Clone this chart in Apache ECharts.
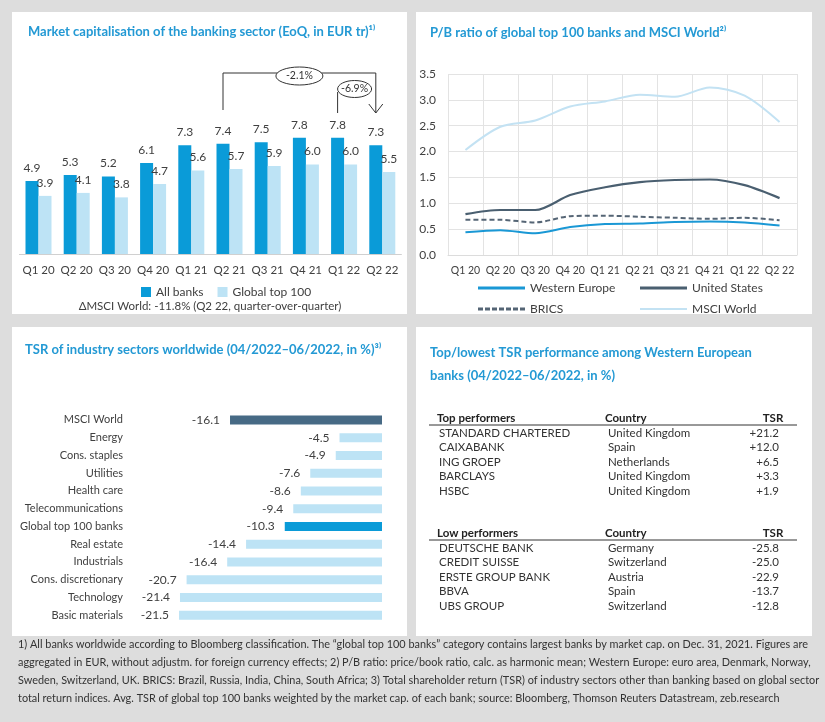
<!DOCTYPE html>
<html><head><meta charset="utf-8">
<script src="https://cdn.jsdelivr.net/npm/echarts@6/dist/echarts.min.js"></script>
<style>html,body{margin:0;padding:0;background:#dddddd;}#c{width:825px;height:722px;}</style>
</head><body><div id="c"></div>
<script>
// ---------- data ----------
const quarters = ['Q1 20','Q2 20','Q3 20','Q4 20','Q1 21','Q2 21','Q3 21','Q4 21','Q1 22','Q2 22'];
const allBanks = [4.9,5.3,5.2,6.1,7.3,7.4,7.5,7.8,7.8,7.3];
const globalTop100 = [3.9,4.1,3.8,4.7,5.6,5.7,5.9,6.0,6.0,5.5];

const westernEurope = [0.44,0.48,0.42,0.54,0.60,0.61,0.64,0.65,0.63,0.57];
const unitedStates = [0.79,0.87,0.87,1.16,1.31,1.41,1.45,1.46,1.35,1.10];
const brics = [0.68,0.68,0.63,0.75,0.76,0.74,0.72,0.70,0.72,0.67];
const msciWorld = [2.03,2.48,2.60,2.87,2.97,3.10,3.06,3.24,3.08,2.57];

const sectors = ['MSCI World','Energy','Cons. staples','Utilities','Health care','Telecommunications','Global top 100 banks','Real estate','Industrials','Cons. discretionary','Technology','Basic materials'];
const sectorTSR = [-16.1,-4.5,-4.9,-7.6,-8.6,-9.4,-10.3,-14.4,-16.4,-20.7,-21.4,-21.5];

const topNames = ['STANDARD CHARTERED','CAIXABANK','ING GROEP','BARCLAYS','HSBC'];
const topCountries = ['United Kingdom','Spain','Netherlands','United Kingdom','United Kingdom'];
const topTSR = ['+21.2','+12.0','+6.5','+3.3','+1.9'];
const lowNames = ['DEUTSCHE BANK','CREDIT SUISSE','ERSTE GROUP BANK','BBVA','UBS GROUP'];
const lowCountries = ['Germany','Switzerland','Austria','Spain','Switzerland'];
const lowTSR = ['-25.8','-25.0','-22.9','-13.7','-12.8'];

const footnotes = [
 '1) All banks worldwide according to Bloomberg classification. The \u201cglobal top 100 banks\u201d category contains largest banks by market cap. on Dec. 31, 2021. Figures are',
 'aggregated in EUR, without adjustm. for foreign currency effects; 2) P/B ratio: price/book ratio, calc. as harmonic mean; Western Europe: euro area, Denmark, Norway,',
 'Sweden, Switzerland, UK. BRICS: Brazil, Russia, India, China, South Africa; 3) Total shareholder return (TSR) of industry sectors other than banking based on global sector',
 'total return indices. Avg. TSR of global top 100 banks weighted by the market cap. of each bank; source: Bloomberg, Thomson Reuters Datastream, zeb.research'
];

// ---------- style ----------
const FONT = 'Lato, "Open Sans", sans-serif';
const TXT = '#404040';
const TITLE = '#2399d4';
const DARK = '#0a9bd8';
const LIGHT = '#bde3f5';

const chart = echarts.init(document.getElementById('c'), null, {renderer:'canvas'});

function txt(x, y, s, opts) {
  return {type:'text', x:x, y:y, style:Object.assign({text:s, fill:'#333', font:'11.5px '+FONT, textVerticalAlign:'middle'}, opts||{})};
}

const base = [];
[[12,12,395,302],[416,12,396,302],[12,327,395,309],[416,327,396,309]].forEach(r=>{
  base.push({type:'rect', shape:{x:r[0],y:r[1],width:r[2],height:r[3]}, style:{fill:'#ffffff'}, z:-10});
});
base.push({type:'text', x:28, y:32, style:{text:'Market capitalisation of the banking sector (EoQ, in EUR tr)\u00b9\u207e', fill:TITLE, font:'bold 13px '+FONT, textVerticalAlign:'middle'}});
base.push({type:'text', x:430, y:33, style:{text:'P/B ratio of global top 100 banks and MSCI World\u00b2\u207e', fill:TITLE, font:'bold 13px '+FONT, textVerticalAlign:'middle'}});
base.push({type:'text', x:25, y:350, style:{text:'TSR of industry sectors worldwide (04/2022\u201306/2022, in %)\u00b3\u207e', fill:TITLE, font:'bold 13px '+FONT, textVerticalAlign:'middle'}});
base.push({type:'text', x:430, y:353, style:{text:'Top/lowest TSR performance among Western European', fill:TITLE, font:'bold 13px '+FONT, textVerticalAlign:'middle'}});
base.push({type:'text', x:430, y:376, style:{text:'banks (04/2022\u201306/2022, in %)', fill:TITLE, font:'bold 13px '+FONT, textVerticalAlign:'middle'}});
base.push({type:'text', x:210, y:306, style:{text:'\u0394MSCI World: -11.8% (Q2 22, quarter-over-quarter)', fill:TXT, font:'11.5px '+FONT, textAlign:'center', textVerticalAlign:'middle'}});

function table(y0, head, names, countries, tsr) {
  base.push(txt(437, y0, head, {font:'bold 11.5px '+FONT, fill:'#222'}));
  base.push(txt(605, y0, 'Country', {font:'bold 11.5px '+FONT, fill:'#222'}));
  base.push(txt(773, y0, 'TSR', {font:'bold 11.5px '+FONT, fill:'#222', textAlign:'center'}));
  base.push({type:'line', shape:{x1:429,y1:y0+7,x2:797,y2:y0+7}, style:{stroke:'#333', lineWidth:1}});
  names.forEach((n,i)=>{
    const y = y0 + 15 + i*14.5;
    base.push(txt(439, y, n));
    base.push(txt(608, y, countries[i]));
    base.push(txt(779, y, tsr[i], {textAlign:'right'}));
  });
}
table(418, 'Top performers', topNames, topCountries, topTSR);
table(533, 'Low performers', lowNames, lowCountries, lowTSR);

// footnotes: compress horizontally to the width of the reference lines
const FNFONT = '11.5px ' + FONT;
const mctx = document.createElement('canvas').getContext('2d');
mctx.font = FNFONT;
const fnScale = 790 / mctx.measureText(footnotes[0]).width;
footnotes.forEach((f,i)=>{
  base.push({type:'text', x:18, y:644+i*18, scaleX:fnScale, originX:0, originY:0,
    style:{text:f, fill:'#333', font:FNFONT, textVerticalAlign:'middle'}});
});

const lineIcon = 'path://M0,0h47v3h-47z';
const dashIcon = 'path://M0,0h5v3h-5zM7,0h5v3h-5zM14,0h5v3h-5zM21,0h5v3h-5zM28,0h5v3h-5zM35,0h5v3h-5zM42,0h5v3h-5z';

const option = {
  animation:false,
  textStyle:{fontFamily:FONT},
  grid:[
    {left:19.4, width:382, top:105, height:149},
    {left:448, width:349, top:74, height:181},
    {left:146, width:236, top:411, height:213}
  ],
  legend:[
    {data:['All banks','Global top 100'], left:136, top:281, icon:'rect', itemWidth:10, itemHeight:10, itemGap:14,
     textStyle:{fontSize:12, color:TXT, fontFamily:FONT}},
    {data:[{name:'Western Europe', icon:lineIcon},{name:'BRICS', icon:dashIcon}], orient:'vertical', left:473, top:276,
     itemWidth:47, itemHeight:3, itemGap:7, textStyle:{fontSize:12, color:TXT, fontFamily:FONT, lineHeight:14}},
    {data:[{name:'United States', icon:lineIcon},{name:'MSCI World', icon:'path://M0,0h47v2h-47z'}], orient:'vertical', left:635, top:276,
     itemWidth:47, itemHeight:3, itemGap:7, textStyle:{fontSize:12, color:TXT, fontFamily:FONT, lineHeight:14}}
  ],
  xAxis:[
    {gridIndex:0, type:'category', data:quarters, axisTick:{show:false},
     axisLine:{lineStyle:{color:'#d0d0d0'}}, axisLabel:{color:TXT, fontSize:11.5, margin:10, interval:0}},
    {gridIndex:1, type:'category', data:quarters, axisTick:{show:false},
     axisLine:{lineStyle:{color:'#dcdcdc'}}, splitLine:{show:true, interval:0, lineStyle:{color:'#e3e3e3'}},
     axisLabel:{color:TXT, fontSize:10.5, margin:10, interval:0}},
    {gridIndex:2, type:'value', min:-25, max:0, show:false}
  ],
  yAxis:[
    {gridIndex:0, type:'value', min:0, max:10, show:false},
    {gridIndex:1, type:'value', min:0, max:3.5, interval:0.5, axisLine:{show:false}, axisTick:{show:false},
     splitLine:{lineStyle:{color:'#e3e3e3'}},
     axisLabel:{color:TXT, fontSize:12, margin:12, formatter:v=>v.toFixed(1)}},
    {gridIndex:2, type:'category', data:sectors, inverse:true, axisLine:{show:false}, axisTick:{show:false},
     axisLabel:{color:TXT, fontSize:11, margin:23, interval:0}}
  ],
  series:[
    {name:'All banks', type:'bar', xAxisIndex:0, yAxisIndex:0, data:allBanks, barWidth:13, barGap:'0%',
     itemStyle:{color:DARK}, label:{show:true, position:'top', distance:7, color:TXT, fontSize:12, formatter:p=>p.value.toFixed(1)}},
    {name:'Global top 100', type:'bar', xAxisIndex:0, yAxisIndex:0, data:globalTop100, barWidth:13, barGap:'0%',
     itemStyle:{color:LIGHT}, label:{show:true, position:'top', distance:7, color:TXT, fontSize:12, formatter:p=>p.value.toFixed(1)}},

    {name:'Western Europe', type:'line', xAxisIndex:1, yAxisIndex:1, data:westernEurope, symbol:'none', smooth:0.3,
     lineStyle:{color:'#1a98d5', width:2}, itemStyle:{color:'#1a98d5'}},
    {name:'United States', type:'line', xAxisIndex:1, yAxisIndex:1, data:unitedStates, symbol:'none', smooth:0.3,
     lineStyle:{color:'#4a5f70', width:2.2}, itemStyle:{color:'#4a5f70'}},
    {name:'BRICS', type:'line', xAxisIndex:1, yAxisIndex:1, data:brics, symbol:'none', smooth:0.3,
     lineStyle:{color:'#556575', width:2, type:[5,3]}, itemStyle:{color:'#556575'}},
    {name:'MSCI World', type:'line', xAxisIndex:1, yAxisIndex:1, data:msciWorld, symbol:'none', smooth:0.3,
     lineStyle:{color:'#c3e2f3', width:2}, itemStyle:{color:'#c3e2f3'}},

    {name:'TSR', type:'bar', xAxisIndex:2, yAxisIndex:2, barWidth:9,
     data:sectorTSR.map((v,i)=>({value:v, itemStyle:{color: sectors[i]==='MSCI World' ? '#476a85' : (sectors[i]==='Global top 100 banks' ? DARK : LIGHT)}})),
     label:{show:true, position:'left', distance:10, color:TXT, fontSize:12, formatter:p=>p.value.toFixed(1)}}
  ],
  graphic: base
};
chart.setOption(option);

// annotation brackets above the bar chart, anchored to the category positions
const cx = q => chart.convertToPixel({xAxisIndex:0}, q) - 6.5;
const xL = cx('Q2 21'), xR = cx('Q2 22'), xM = cx('Q1 22');
const yTop = 73;
const ann = [];
ann.push({type:'polyline', shape:{points:[[xL,110],[xL,yTop],[xR,yTop],[xR,113]]}, style:{stroke:'#333', lineWidth:1, fill:null}, z:5});
ann.push({type:'polyline', shape:{points:[[xR-7,104],[xR,113],[xR+7,104]]}, style:{stroke:'#333', lineWidth:1, fill:null}, z:5});
ann.push({type:'line', shape:{x1:xM, y1:92, x2:xM, y2:113}, style:{stroke:'#333', lineWidth:1}, z:5});
ann.push({type:'ellipse', shape:{cx:(xL+xR)/2, cy:76, rx:23.5, ry:9}, style:{fill:'#fff', stroke:'#333', lineWidth:1}, z:6});
ann.push({type:'text', x:(xL+xR)/2, y:76, style:{text:'-2.1%', fill:'#333', font:'10.5px '+FONT, textAlign:'center', textVerticalAlign:'middle'}, z:7});
ann.push({type:'ellipse', shape:{cx:xM+17, cy:89, rx:17, ry:8.5}, style:{fill:'#fff', stroke:'#333', lineWidth:1}, z:6});
ann.push({type:'text', x:xM+17, y:89, style:{text:'-6.9%', fill:'#333', font:'10.5px '+FONT, textAlign:'center', textVerticalAlign:'middle'}, z:7});
chart.setOption({graphic: base.concat(ann)});
</script></body></html>
